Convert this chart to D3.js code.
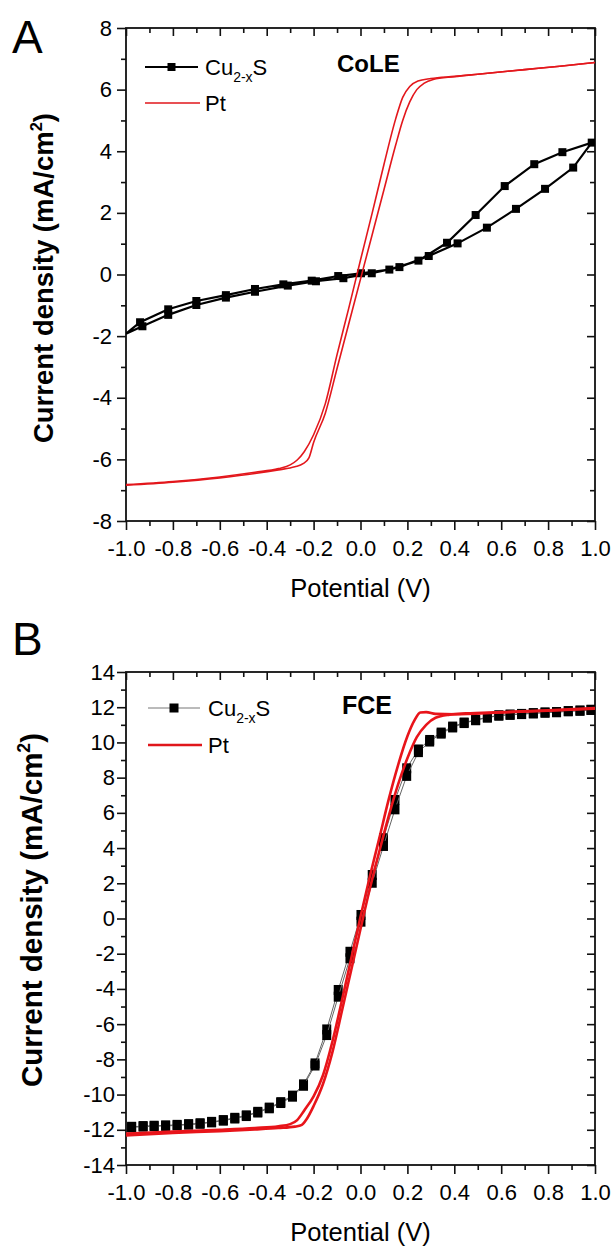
<!DOCTYPE html>
<html>
<head>
<meta charset="utf-8">
<script src="https://cdn.jsdelivr.net/npm/d3@7"></script>
<style>
  body { margin: 0; background: #fff; }
  text { font-family: "Liberation Sans", Arial, sans-serif; fill: #000; }
</style>
</head>
<body>
<svg id="fig" width="613" height="1248"></svg>
<script>
// tick labels
var xTicks = [-1.0, -0.8, -0.6, -0.4, -0.2, 0.0, 0.2, 0.4, 0.6, 0.8, 1.0];
var yTicksA = [-8, -6, -4, -2, 0, 2, 4, 6, 8];
var yTicksB = [-14, -12, -10, -8, -6, -4, -2, 0, 2, 4, 6, 8, 10, 12, 14];

// panel A (CoLE) - Cu2-xS loop, [potential V, current mA/cm2]
var cuA = [[-1.0, -1.92], [-0.93, -1.68], [-0.82, -1.31], [-0.70, -0.99], [-0.574, -0.75], [-0.45, -0.56],
  [-0.31, -0.36], [-0.19, -0.22], [-0.073, -0.12], [0.048, 0.04], [0.166, 0.24], [0.291, 0.60],
  [0.414, 1.01], [0.539, 1.52], [0.663, 2.13], [0.787, 2.78], [0.907, 3.47], [0.986, 4.28],
  [0.861, 3.97], [0.741, 3.58], [0.615, 2.87], [0.491, 1.93], [0.369, 1.03], [0.247, 0.45],
  [0.123, 0.16], [0.002, 0.04], [-0.095, -0.05], [-0.208, -0.20], [-0.329, -0.32], [-0.45, -0.47],
  [-0.574, -0.67], [-0.70, -0.86], [-0.82, -1.13], [-0.94, -1.55], [-1.0, -1.92]];

// panel A - Pt, two sweeps
var ptA1 = [[-1.0, -6.82], [-0.8, -6.72], [-0.6, -6.57], [-0.45, -6.42], [-0.35, -6.3], [-0.3, -6.18],
  [-0.27, -6.02], [-0.24, -5.75], [-0.2, -5.2], [-0.15, -4.19], [-0.1, -2.6], [-0.05, -1.09],
  [0.0, 0.47], [0.05, 2.0], [0.1, 3.57], [0.15, 5.05], [0.18, 5.75], [0.21, 6.1], [0.245, 6.28],
  [0.3, 6.36], [0.4, 6.43], [0.5, 6.5], [0.7, 6.65], [0.85, 6.76], [1.0, 6.88]];
var ptA2 = [[-1.0, -6.84], [-0.8, -6.74], [-0.6, -6.6], [-0.45, -6.46], [-0.35, -6.34], [-0.28, -6.24],
  [-0.245, -6.14], [-0.22, -5.95], [-0.2, -5.45], [-0.15, -4.5], [-0.1, -3.05], [-0.05, -1.6],
  [0.0, -0.15], [0.05, 1.3], [0.1, 2.75], [0.15, 4.2], [0.18, 5.0], [0.21, 5.6], [0.24, 6.0],
  [0.27, 6.2], [0.31, 6.33], [0.4, 6.42], [0.5, 6.5], [0.7, 6.65], [0.85, 6.76], [1.0, 6.88]];

// panel B (FCE) - Cu2-xS, shared potentials, two sweeps
var cuBV = [-0.976, -0.927, -0.88, -0.831, -0.782, -0.733, -0.684, -0.635, -0.585, -0.536, -0.487,
  -0.438, -0.389, -0.34, -0.29, -0.243, -0.194, -0.144, -0.095, -0.045, 0.002, 0.05, 0.098, 0.147,
  0.197, 0.247, 0.295, 0.344, 0.393, 0.442, 0.491, 0.541, 0.59, 0.638, 0.687, 0.737, 0.787, 0.836,
  0.886, 0.936, 0.983];
var cuBUp = [-11.83, -11.79, -11.77, -11.75, -11.72, -11.68, -11.63, -11.55, -11.45, -11.32, -11.18,
  -10.98, -10.74, -10.43, -10.06, -9.42, -8.23, -6.3, -4.06, -1.89, 0.2, 2.47, 4.56, 6.73,
  8.53, 9.6, 10.14, 10.56, 10.9, 11.13, 11.28, 11.43, 11.54, 11.58, 11.62, 11.66, 11.7, 11.72,
  11.78, 11.81, 11.85];
var cuBLo = [-11.86, -11.82, -11.8, -11.78, -11.75, -11.71, -11.66, -11.58, -11.48, -11.36, -11.22,
  -11.02, -10.78, -10.48, -10.12, -9.5, -8.35, -6.62, -4.44, -2.26, -0.18, 2.03, 4.12, 6.2,
  8.1, 9.45, 10.05, 10.5, 10.85, 11.1, 11.26, 11.41, 11.52, 11.57, 11.61, 11.65, 11.69, 11.72,
  11.77, 11.8, 11.85];

// panel B - Pt, two sweeps
var ptB1 = [[-1.0, -12.22], [-0.8, -12.1], [-0.6, -12.0], [-0.45, -11.9], [-0.35, -11.8], [-0.3, -11.68],
  [-0.27, -11.45], [-0.24, -10.9], [-0.2, -10.1], [-0.16, -8.9], [-0.12, -7.0], [-0.08, -4.7],
  [-0.04, -2.3], [0.0, 0.1], [0.04, 2.4], [0.08, 4.55], [0.12, 6.75], [0.16, 8.7], [0.2, 10.35],
  [0.23, 11.25], [0.255, 11.7], [0.28, 11.72], [0.32, 11.62], [0.4, 11.6], [0.6, 11.7], [0.8, 11.8],
  [1.0, 11.92]];
var ptB2 = [[-1.0, -12.32], [-0.8, -12.18], [-0.6, -12.08], [-0.45, -11.98], [-0.35, -11.9], [-0.28, -11.82],
  [-0.25, -11.72], [-0.23, -11.4], [-0.2, -10.65], [-0.16, -9.4], [-0.12, -7.6], [-0.08, -5.3],
  [-0.04, -2.95], [0.0, -0.6], [0.04, 1.7], [0.08, 3.8], [0.12, 5.8], [0.16, 7.6], [0.2, 9.1],
  [0.24, 10.3], [0.28, 11.0], [0.32, 11.4], [0.38, 11.58], [0.45, 11.65], [0.6, 11.72], [0.8, 11.82],
  [1.0, 11.95]];

var svg = d3.select('#fig');
var left = 126, right = 595;
var x = d3.scaleLinear().domain([-1, 1]).range([left, right]);

function minors(ticks) {
  return d3.pairs(ticks).map(function(p) { return (p[0] + p[1]) / 2; });
}

// draws frame, ticks and labels of one panel, returns its y scale
function drawFrame(p) {
  var y = d3.scaleLinear().domain(p.yDomain).range([p.bottom, p.top]);
  var g = svg.append('g');

  // bottom axis: outward ticks with labels
  g.append('g').attr('transform', 'translate(0,' + p.bottom + ')')
    .call(d3.axisBottom(x).tickValues(xTicks).tickSize(9).tickPadding(10)
      .tickFormat(function(d) { return d.toFixed(1); }));
  g.append('g').attr('transform', 'translate(0,' + p.bottom + ')')
    .call(d3.axisBottom(x).tickValues(minors(xTicks)).tickSize(5).tickFormat(''));
  // top axis: inward ticks
  g.append('g').attr('transform', 'translate(0,' + p.top + ')')
    .call(d3.axisBottom(x).tickValues(xTicks).tickSize(8).tickFormat(''));
  g.append('g').attr('transform', 'translate(0,' + p.top + ')')
    .call(d3.axisBottom(x).tickValues(minors(xTicks)).tickSize(5).tickFormat(''));
  // left axis
  g.append('g').attr('transform', 'translate(' + left + ',0)')
    .call(d3.axisLeft(y).tickValues(p.yTicks).tickSize(9).tickPadding(p.yPad)
      .tickFormat(function(d) { return String(d); }));
  g.append('g').attr('transform', 'translate(' + left + ',0)')
    .call(d3.axisLeft(y).tickValues(minors(p.yTicks)).tickSize(5).tickFormat(''));
  // right axis: inward
  g.append('g').attr('transform', 'translate(' + right + ',0)')
    .call(d3.axisLeft(y).tickValues(p.yTicks).tickSize(8).tickFormat(''));
  g.append('g').attr('transform', 'translate(' + right + ',0)')
    .call(d3.axisLeft(y).tickValues(minors(p.yTicks)).tickSize(5).tickFormat(''));

  g.selectAll('.domain').remove();
  g.selectAll('.tick line').attr('stroke', '#111').attr('stroke-width', 1.6);
  g.selectAll('.tick text').style('font-size', '22px').attr('fill', '#111');

  g.append('rect')
    .attr('x', left).attr('y', p.top)
    .attr('width', right - left).attr('height', p.bottom - p.top)
    .attr('fill', 'none').attr('stroke', '#111').attr('stroke-width', 1.8);

  // axis titles
  svg.append('text')
    .attr('x', (left + right) / 2).attr('y', p.bottom + 76)
    .attr('text-anchor', 'middle').style('font-size', '25.5px')
    .text('Potential (V)');

  var yt = svg.append('text')
    .attr('transform', 'translate(' + p.yTitleX + ',' + p.yTitleY + ') rotate(-90)')
    .attr('text-anchor', 'middle')
    .style('font-size', p.yTitleSize + 'px').style('font-weight', 'bold');
  yt.append('tspan').text('Current density (mA/cm');
  yt.append('tspan').attr('dy', -p.yTitleSize * 0.4).style('font-size', (p.yTitleSize * 0.6) + 'px').text('2');
  yt.append('tspan').attr('dy', p.yTitleSize * 0.4).text(')');

  // panel letter
  svg.append('text').attr('x', 12).attr('y', p.letterY)
    .style('font-size', '46px').text(p.letter);

  // electrolyte label
  svg.append('text').attr('x', p.tagX).attr('y', p.tagY)
    .style('font-size', p.tagSize + 'px').style('font-weight', 'bold').text(p.tag);

  // clip path for the curves
  svg.append('clipPath').attr('id', 'clip' + p.letter)
    .append('rect').attr('x', left).attr('y', p.top)
    .attr('width', right - left).attr('height', p.bottom - p.top);

  return y;
}

function legend(lg) {
  var g = svg.append('g');
  g.append('line').attr('x1', lg.x1).attr('x2', lg.x2).attr('y1', lg.cuY).attr('y2', lg.cuY)
    .attr('stroke', lg.cuColor).attr('stroke-width', lg.cuWidth);
  g.append('rect').attr('x', (lg.x1 + lg.x2) / 2 - lg.mk / 2).attr('y', lg.cuY - lg.mk / 2)
    .attr('width', lg.mk).attr('height', lg.mk).attr('fill', '#000');
  var t = g.append('text').attr('x', lg.tx).attr('y', lg.cuY + 8).style('font-size', '22px');
  t.append('tspan').text('Cu');
  t.append('tspan').attr('dy', 7).style('font-size', '14px').text('2-x');
  t.append('tspan').attr('dy', -7).text('S');

  g.append('line').attr('x1', lg.x1).attr('x2', lg.x2 + 2).attr('y1', lg.ptY).attr('y2', lg.ptY)
    .attr('stroke', '#e0161b').attr('stroke-width', lg.ptWidth);
  g.append('text').attr('x', lg.tx).attr('y', lg.ptY + 8).style('font-size', '22px').text('Pt');
}

// ---------- panel A ----------
var yA = drawFrame({
  top: 28, bottom: 521, yDomain: [-8, 8], yTicks: yTicksA, yPad: 5,
  yTitleX: 53, yTitleY: 278, yTitleSize: 27.5,
  letter: 'A', letterY: 53, tag: 'CoLE', tagX: 337, tagY: 72, tagSize: 24
});

var lineA = d3.line().x(function(d) { return x(d[0]); }).y(function(d) { return yA(d[1]); });
var gA = svg.append('g').attr('clip-path', 'url(#clipA)');

gA.append('path').datum(cuA).attr('d', lineA)
  .attr('fill', 'none').attr('stroke', '#000').attr('stroke-width', 2.2);
gA.selectAll('rect.mk').data(cuA.slice(1, -1)).enter().append('rect')
  .attr('class', 'mk')
  .attr('x', function(d) { return x(d[0]) - 4; })
  .attr('y', function(d) { return yA(d[1]) - 4; })
  .attr('width', 8).attr('height', 8).attr('fill', '#000');

var smoothA = d3.line().curve(d3.curveMonotoneX)
  .x(function(d) { return x(d[0]); }).y(function(d) { return yA(d[1]); });
[ptA1, ptA2].forEach(function(s) {
  gA.append('path').datum(s).attr('d', smoothA)
    .attr('fill', 'none').attr('stroke', '#e3171c').attr('stroke-width', 1.6);
});

legend({ x1: 145, x2: 198, tx: 205, cuY: 67, ptY: 103, mk: 8,
  cuColor: '#000', cuWidth: 2.2, ptWidth: 1.6 });

// ---------- panel B ----------
var yB = drawFrame({
  top: 672, bottom: 1165, yDomain: [-14, 14], yTicks: yTicksB, yPad: 2,
  yTitleX: 42, yTitleY: 910, yTitleSize: 29.5,
  letter: 'B', letterY: 655, tag: 'FCE', tagX: 342, tagY: 714, tagSize: 25
});

var gB = svg.append('g').attr('clip-path', 'url(#clipB)');
[cuBUp, cuBLo].forEach(function(js) {
  var pts = cuBV.map(function(v, i) { return [v, js[i]]; });
  gB.append('path').datum(pts)
    .attr('d', d3.line().x(function(d) { return x(d[0]); }).y(function(d) { return yB(d[1]); }))
    .attr('fill', 'none').attr('stroke', '#666').attr('stroke-width', 1);
  gB.append('g').selectAll('rect').data(pts).enter().append('rect')
    .attr('x', function(d) { return x(d[0]) - 4.5; })
    .attr('y', function(d) { return yB(d[1]) - 5; })
    .attr('width', 9).attr('height', 10).attr('fill', '#000');
});

var smoothB = d3.line().curve(d3.curveMonotoneX)
  .x(function(d) { return x(d[0]); }).y(function(d) { return yB(d[1]); });
[ptB1, ptB2].forEach(function(s) {
  gB.append('path').datum(s).attr('d', smoothB)
    .attr('fill', 'none').attr('stroke', '#e8141a').attr('stroke-width', 2.6);
});

legend({ x1: 148, x2: 200, tx: 208, cuY: 708, ptY: 745, mk: 9,
  cuColor: '#777', cuWidth: 1, ptWidth: 2.6 });
</script>
</body>
</html>
